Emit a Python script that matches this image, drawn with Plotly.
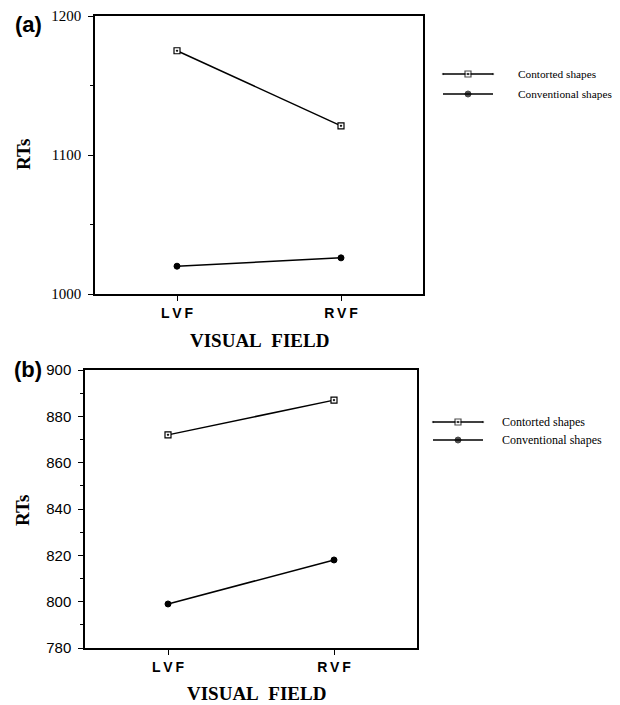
import plotly.graph_objects as go

# Visual field categories and their drawn labels
fields = ["LVF", "RVF"]
field_labels = ["L\u2009V\u2009F", "R\u2009V\u2009F"]
series_names = ["Contorted shapes", "Conventional shapes"]

# Panel (a): mean RTs
rt_a_contorted = [1175, 1121]
rt_a_conventional = [1020, 1026]
rt_a_ticks = [1000, 1100, 1200]

# Panel (b): mean RTs
rt_b_contorted = [872, 887]
rt_b_conventional = [799, 818]
rt_b_ticks = [780, 800, 820, 840, 860, 880, 900]

W, H = 620, 705
SERIF = "Liberation Serif"
SANS = "Liberation Sans"


def fx(x):
    return x / W


def fy(y):
    return 1 - y / H


contorted_marker = dict(symbol="square-dot", size=6, color="white",
                        line=dict(color="black", width=1.2))
conventional_marker = dict(symbol="circle", size=6, color="black",
                           line=dict(color="black", width=1))
line_style = dict(color="black", width=1.5)

fig = go.Figure()

# Panel (a) series
fig.add_trace(go.Scatter(x=fields, y=rt_a_contorted, mode="lines+markers",
                         line=line_style, marker=contorted_marker,
                         name=series_names[0], xaxis="x", yaxis="y"))
fig.add_trace(go.Scatter(x=fields, y=rt_a_conventional, mode="lines+markers",
                         line=line_style, marker=conventional_marker,
                         name=series_names[1], xaxis="x", yaxis="y"))
# Panel (b) series
fig.add_trace(go.Scatter(x=fields, y=rt_b_contorted, mode="lines+markers",
                         line=line_style, marker=contorted_marker,
                         name=series_names[0], xaxis="x2", yaxis="y2"))
fig.add_trace(go.Scatter(x=fields, y=rt_b_conventional, mode="lines+markers",
                         line=line_style, marker=conventional_marker,
                         name=series_names[1], xaxis="x2", yaxis="y2"))

# Legend keys drawn on a hidden pixel-space overlay axis
legend_keys = [
    # (x0, x1, y, marker, text_x, font size, label)
    (443, 493, 74, contorted_marker, 516, 11.3, series_names[0]),
    (443, 493, 94, conventional_marker, 516, 11.3, series_names[1]),
    (433, 483, 422, contorted_marker, 500, 12, series_names[0]),
    (433, 483, 440, conventional_marker, 500, 12, series_names[1]),
]
annotations = []
for x0, x1, y, mk, tx, fs, label in legend_keys:
    xm = (x0 + x1) / 2
    fig.add_trace(go.Scatter(x=[x0, xm, x1], y=[y, y, y], mode="lines+markers",
                             line=dict(color="black", width=1.5),
                             marker=dict(mk, size=[0, mk["size"], 0]),
                             xaxis="x3", yaxis="y3", hoverinfo="skip"))
    annotations.append(dict(x=fx(tx), y=fy(y), xref="paper", yref="paper",
                            text=label, showarrow=False, xanchor="left",
                            yanchor="middle",
                            font=dict(family=SERIF, size=fs, color="black")))

# Panel letters and axis titles
for txt, x, y in [("(a)", 28, 24), ("(b)", 28, 369)]:
    annotations.append(dict(x=fx(x), y=fy(y), xref="paper", yref="paper",
                            text=txt, showarrow=False, xanchor="center",
                            yanchor="middle",
                            font=dict(family=SANS, size=22, color="black",
                                      weight="bold")))
for x, y in [(23, 155), (22, 511)]:
    annotations.append(dict(x=fx(x), y=fy(y), xref="paper", yref="paper",
                            text="RTs", showarrow=False, textangle=-90,
                            xanchor="center", yanchor="middle",
                            font=dict(family=SERIF, size=19, color="black",
                                      weight="bold")))
for x, y in [(259, 341), (256, 693)]:
    annotations.append(dict(x=fx(x), y=fy(y), xref="paper", yref="paper",
                            text="VISUAL\u00a0\u00a0FIELD", showarrow=False,
                            xanchor="center", yanchor="middle",
                            font=dict(family=SERIF, size=19, color="black",
                                      weight="bold")))

common_x = dict(type="category", range=[-0.5, 1.5], tickvals=fields,
                ticktext=field_labels, showline=True, linecolor="black",
                linewidth=1.5, mirror=True, ticks="outside", ticklen=5,
                tickwidth=1.2, tickcolor="black", showgrid=False,
                zeroline=False, ticklabelstandoff=0, automargin=False,
                tickfont=dict(family=SANS, size=14, color="black",
                              weight="bold"))
common_y = dict(showline=True, linecolor="black", linewidth=1.5, mirror=True,
                ticks="outside", ticklen=5, tickwidth=1.2, tickcolor="black",
                showgrid=False, zeroline=False, ticklabelstandoff=4,
                automargin=False)

fig.update_layout(
    template="none",
    width=W, height=H,
    margin=dict(l=0, r=0, t=0, b=0, pad=0, autoexpand=False),
    paper_bgcolor="white", plot_bgcolor="rgba(0,0,0,0)",
    showlegend=False,
    xaxis=dict(common_x, domain=[fx(95), fx(423)], anchor="y"),
    yaxis=dict(common_y, domain=[fy(294), fy(16)], anchor="x",
               range=[1000, 1200], tickvals=rt_a_ticks,
               minor=dict(dtick=50, ticks="outside", ticklen=3,
                          tickcolor="black", tickwidth=1),
               tickfont=dict(family=SERIF, size=15, color="black")),
    xaxis2=dict(common_x, domain=[fx(85), fx(417)], anchor="y2"),
    yaxis2=dict(common_y, domain=[fy(648), fy(370)], anchor="x2",
                range=[780, 900], tickvals=rt_b_ticks,
                minor=dict(dtick=10, ticks="outside", ticklen=3,
                           tickcolor="black", tickwidth=1),
                tickfont=dict(family=SANS, size=15, color="black")),
    xaxis3=dict(domain=[0, 1], range=[0, W], visible=False, anchor="y3",
                fixedrange=True, automargin=False),
    yaxis3=dict(domain=[0, 1], range=[H, 0], visible=False, anchor="x3",
                fixedrange=True, automargin=False),
    annotations=annotations,
)

fig.write_html("out.html")
